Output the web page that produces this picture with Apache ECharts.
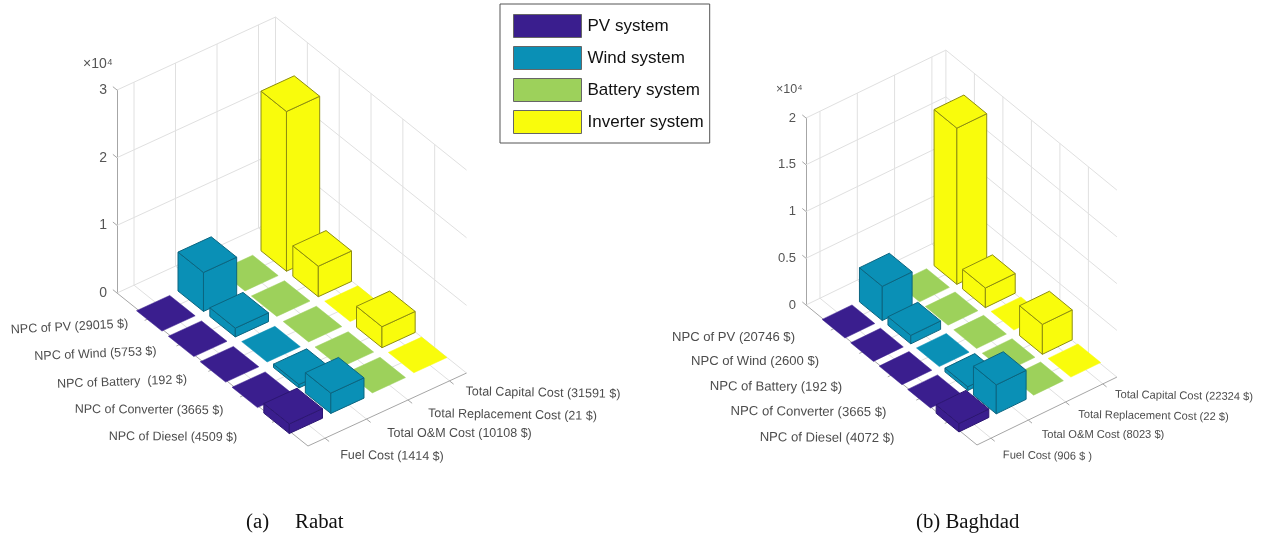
<!DOCTYPE html>
<html><head><meta charset="utf-8">
<style>html,body{margin:0;padding:0;background:#fff}#c{width:1270px;height:538px}</style>
<script src="https://cdn.jsdelivr.net/npm/echarts@6/dist/echarts.min.js"></script>
</head><body><div id="c"></div>
<script>
// ---- data ----
const systemNames = ['PV system', 'Wind system', 'Battery system', 'Inverter system'];
const rabatPV = [60, 60, 60, 60, 1414];
const rabatWind = [5753, 1300, 60, 500, 3000];
const rabatBattery = [60, 60, 60, 60, 60];
const rabatInverter = [23600, 4500, 100, 3100, 60];
const baghdadPV = [60, 60, 60, 60, 900];
const baghdadWind = [3650, 900, 60, 400, 3100];
const baghdadBattery = [60, 60, 60, 60, 60];
const baghdadInverter = [16700, 2100, 100, 3200, 60];
const rabatRowLabels = ['NPC of PV (29015 $)', 'NPC of Wind (5753 $)', 'NPC of Battery  (192 $)', 'NPC of Converter (3665 $)', 'NPC of Diesel (4509 $)'];
const rabatColLabels = ['Fuel Cost (1414 $)', 'Total O&M Cost (10108 $)', 'Total Replacement Cost (21 $)', 'Total Capital Cost (31591 $)'];
const baghdadRowLabels = ['NPC of PV (20746 $)', 'NPC of Wind (2600 $)', 'NPC of Battery (192 $)', 'NPC of Converter (3665 $)', 'NPC of Diesel (4072 $)'];
const baghdadColLabels = ['Fuel Cost (906 $ )', 'Total O&M Cost (8023 $)', 'Total Replacement Cost (22 $)', 'Total Capital Cost (22324 $)'];

// ---- style / layout ----
const faceColors = ['#3A1E8E', '#0A90B6', '#9DD15B', '#F9FC0C'];
const edgeColors = ['#2C1672', '#0B6580', '#7FA848', '#8E8E10'];
const panels = [
  { grid: { left: 117, top: 90, width: 349, height: 203 }, max: 30000, step: 10000, u: [31.83, 25.5], v: [41.5, -19.1], sMax: 3.82, sOff: 0.41,
    barDrop: [3, 2, 1, 0], axisFont: 14, labelFont: 12.5, colFont: 12.5,
    series: [rabatPV, rabatWind, rabatBattery, rabatInverter],
    fmt: v => String(v / 10000) },
  { grid: { left: 806, top: 118, width: 311, height: 187 }, max: 20000, step: 5000, u: [28.5, 23.33], v: [37.3, -18.1], sMax: 3.75, sOff: 0.375,
    barDrop: [0.5, 0.5, 0.5, 0.5], axisFont: 13, labelFont: 13.1, colFont: 11.15,
    series: [baghdadPV, baghdadWind, baghdadBattery, baghdadInverter],
    fmt: v => String(v / 10000) }
];
const ROWS = 5, COLS = 4, RMAX = 6, HALF = 0.4;

function projector(p) {
  const k = p.max / p.grid.height;
  return (r, s, h, drop) => [r * p.u[0] + s * p.v[0], h - (r * p.u[1] + s * p.v[1] + (drop || 0)) * k];
}

// wall, floor and tick segments: r1,s1,h1,r2,s2,h2,kind
function frameSegments(p) {
  const seg = [], sT = c => c + p.sOff;
  for (let h = p.step; h <= p.max; h += p.step) {
    seg.push([0, 0, h, 0, p.sMax, h, 0]);
    seg.push([0, p.sMax, h, RMAX, p.sMax, h, 0]);
  }
  seg.push([0, 0, 0, 0, p.sMax, 0, 0]);
  seg.push([0, p.sMax, 0, RMAX, p.sMax, 0, 0]);
  for (let c = 0; c < COLS; c++) {
    seg.push([0, sT(c), 0, 0, sT(c), p.max, 0]);
    seg.push([0, sT(c), 0, RMAX, sT(c), 0, 0]);
  }
  seg.push([0, p.sMax, 0, 0, p.sMax, p.max, 0]);
  for (let r = 1; r <= ROWS; r++) {
    seg.push([r, p.sMax, 0, r, p.sMax, p.max, 0]);
    seg.push([r, 0, 0, r, p.sMax, 0, 0]);
  }
  seg.push([0, 0, 0, RMAX, 0, 0, 1]);
  seg.push([RMAX, 0, 0, RMAX, p.sMax, 0, 1]);
  for (let r = 1; r <= ROWS; r++) seg.push([r, 0, 0, r, -0.1, 0, 1]);
  for (let c = 0; c < COLS; c++) seg.push([RMAX, sT(c), 0, RMAX + 0.13, sT(c), 0, 1]);
  for (let h = 0; h <= p.max; h += p.step) seg.push([0, 0, h, -0.13, 0, h, 1]);
  return seg;
}

const series = [], grids = [], xAxes = [], yAxes = [];
panels.forEach((p, pi) => {
  const prj = projector(p);
  grids.push(Object.assign({ containLabel: false }, p.grid));
  xAxes.push({ gridIndex: pi, type: 'value', min: 0, max: p.grid.width, show: false });
  yAxes.push({ gridIndex: pi, type: 'value', min: 0, max: p.max, interval: p.step,
    axisLine: { show: true, onZero: false, lineStyle: { color: '#a6a6a6', width: 1 } },
    axisTick: { show: false }, splitLine: { show: false },
    axisLabel: { margin: 10, color: '#555', fontFamily: 'Liberation Sans', fontSize: p.axisFont, padding: [0, 0, 9, 0], formatter: p.fmt } });

  series.push({ type: 'custom', xAxisIndex: pi, yAxisIndex: pi, z: 1, silent: true, clip: false,
    data: frameSegments(p),
    renderItem: (params, api) => {
      const a = api.coord(prj(api.value(0), api.value(1), api.value(2)));
      const b = api.coord(prj(api.value(3), api.value(4), api.value(5)));
      const axisLike = api.value(6) === 1;
      return { type: 'line', shape: { x1: a[0], y1: a[1], x2: b[0], y2: b[1] },
        style: { stroke: axisLike ? '#a6a6a6' : '#e0e0e0', lineWidth: 1 } };
    } });

  p.series.forEach((vals, c) => {
    series.push({ type: 'custom', name: systemNames[c], xAxisIndex: pi, yAxisIndex: pi, z: 2, silent: true, clip: false,
      itemStyle: { color: faceColors[c] },
      data: vals.map((v, r) => [r + 1, c, v]),
      renderItem: (params, api) => {
        const r = api.value(0), col = api.value(1), h = api.value(2), s = col + p.sOff;
        const drop = p.barDrop[col];
        const P = (rr, ss, hh) => api.coord(prj(rr, ss, hh, drop));
        const L = [r - HALF, s - HALF], F = [r + HALF, s - HALF], Rr = [r + HALF, s + HALF], B = [r - HALF, s + HALF];
        const pxH = h / p.max * p.grid.height;
        const edged = pxH >= 1.5;
        const st = { fill: faceColors[col], stroke: edged ? edgeColors[col] : faceColors[col], lineWidth: edged ? 1 : 0.5, lineJoin: 'round' };
        const z2 = 100 + (r - col) * 10;
        const quad = pts => ({ type: 'polygon', z2, shape: { points: pts }, style: st });
        const top = [L, F, Rr, B].map(q => P(q[0], q[1], h));
        const kids = [];
        if (edged) {
          kids.push(quad([P(L[0], L[1], 0), P(F[0], F[1], 0), P(F[0], F[1], h), P(L[0], L[1], h)]));
          kids.push(quad([P(F[0], F[1], 0), P(Rr[0], Rr[1], 0), P(Rr[0], Rr[1], h), P(F[0], F[1], h)]));
        }
        kids.push(quad(top));
        return { type: 'group', children: kids };
      } });
  });
});

// text annotations
const annot = (list, labels, font, color) => labels.map((t, i) => ({
  type: 'text', x: list[i][0], y: list[i][1], rotation: list[i][2] * Math.PI / 180, silent: true,
  style: { text: t, fill: color, font: font + 'px "Liberation Sans"', textAlign: 'center', textVerticalAlign: 'middle', align: 'center', verticalAlign: 'middle' }
}));
const rabatRowPos = [[69.5, 327, 3], [95.5, 354, 2.5], [122, 382, 2], [149, 410, -0.5], [173, 437, -0.5]];
const rabatColPos = [[392, 456, -1], [459.5, 434, 0], [512.5, 415, -1], [543, 393, -1]];
const baghdadRowPos = [[733.5, 337, 0], [755, 361, 0], [776, 387, -0.5], [808.5, 412, -0.5], [827, 438, -0.5]];
const baghdadColPos = [[1047.5, 456, -1], [1103, 435, 0], [1153.5, 416, -1], [1184, 396, -1]];

const option = {
  animation: false,
  backgroundColor: '#fff',
  title: [
    { text: '\u00d710\u2074', left: 83, top: 57, padding: 0, textStyle: { fontFamily: 'Liberation Sans', fontSize: 14, fontWeight: 'normal', color: '#555' } },
    { text: '\u00d710\u2074', left: 776, top: 83, padding: 0, textStyle: { fontFamily: 'Liberation Sans', fontSize: 12.5, fontWeight: 'normal', color: '#555' } },
    { text: '(a)     Rabat', left: 246, top: 512, padding: 0, textStyle: { fontFamily: 'Liberation Serif', fontSize: 20.8, fontWeight: 'normal', color: '#111' } },
    { text: '(b) Baghdad', left: 916, top: 512, padding: 0, textStyle: { fontFamily: 'Liberation Serif', fontSize: 20.8, fontWeight: 'normal', color: '#111' } }
  ],
  legend: {
    left: 500, top: 4, orient: 'vertical', icon: 'rect', selectedMode: false,
    data: systemNames,
    itemWidth: 68, itemHeight: 23, itemGap: 8,
    padding: [10, 6, 9, 13],
    borderColor: '#555', borderWidth: 1, backgroundColor: '#fff',
    itemStyle: { borderColor: '#666', borderWidth: 1 },
    textStyle: { fontFamily: 'Liberation Sans', fontSize: 17, color: '#111', padding: [0, 0, 0, 1] }
  },
  grid: grids, xAxis: xAxes, yAxis: yAxes, series,
  graphic: { elements: [
    ...annot(rabatRowPos, rabatRowLabels, panels[0].labelFont, '#4d4d4d'),
    ...annot(rabatColPos, rabatColLabels, panels[0].colFont, '#4d4d4d'),
    ...annot(baghdadRowPos, baghdadRowLabels, panels[1].labelFont, '#4d4d4d'),
    ...annot(baghdadColPos, baghdadColLabels, panels[1].colFont, '#4d4d4d')
  ] }
};
echarts.init(document.getElementById('c'), null, { renderer: 'canvas' }).setOption(option);
</script></body></html>
